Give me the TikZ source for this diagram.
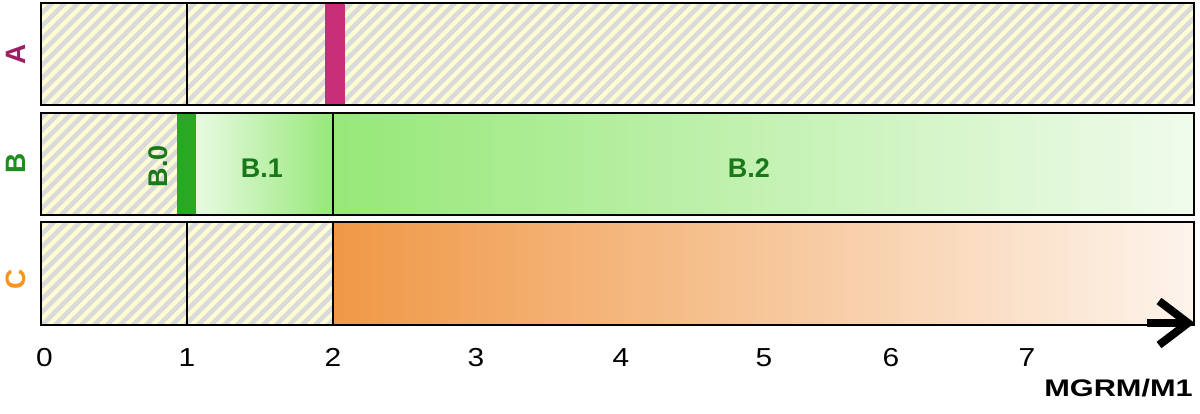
\documentclass[tikz,border=0pt]{standalone}
\usepackage{fontspec}
\setmainfont{Liberation Sans}
\definecolor{hatchyellow}{RGB}{255,252,210}
\definecolor{hatchgray}{RGB}{218,218,218}
\definecolor{barmagenta}{RGB}{200,45,120}
\definecolor{bargreen}{RGB}{40,168,35}
\definecolor{gpale}{RGB}{232,250,226}
\definecolor{gmid}{RGB}{150,232,120}
\definecolor{gend}{RGB}{240,251,236}
\definecolor{oleft}{RGB}{240,152,70}
\definecolor{oright}{RGB}{253,244,236}
\definecolor{labA}{RGB}{160,30,100}
\definecolor{labB}{RGB}{30,140,30}
\definecolor{labC}{RGB}{247,148,29}
\definecolor{labtext}{RGB}{25,120,25}
\tikzset{
  boxline/.style={draw=black, line width=1.4pt},
  divline/.style={black, line width=1.4pt},
  rowlabel/.style={font=\fontsize{28}{32}\selectfont\bfseries, rotate=90, inner sep=0pt},
  seglabel/.style={font=\fontsize{27}{31}\selectfont\bfseries, text=labtext, inner sep=0pt},
  ticklabel/.style={font=\fontsize{26}{30}\selectfont, inner sep=0pt, xscale=1.15},
  axisarrow/.style={line width=8pt, line join=miter, black}
}
\begin{document}
\begin{tikzpicture}[x=1pt, y=-1pt]
\useasboundingbox (0,0) rectangle (1200,413);
% hatched regions
\begin{scope}
  \clip (41,3) rectangle (1194,105)
        (41,113) rectangle (177,215)
        (41,222) rectangle (333,325);
  \fill[hatchyellow] (0,0) rectangle (1200,413);
  \foreach \k in {-440,-427,...,1200}
    \draw[hatchgray, line width=4.6pt] (\k,430) -- ++(440,-440);
\end{scope}
% row A
\fill[barmagenta] (325,3) rectangle (345,105);
\draw[divline] (187,3) -- (187,105);
\draw[boxline] (41,3) rectangle (1194,105);
% row B
\fill[bargreen] (177,113) rectangle (196,215);
\shade[left color=gpale, right color=gmid] (196,113) rectangle (333,215);
\shade[left color=gmid, right color=gend] (333,113) rectangle (1194,215);
\draw[divline] (333,113) -- (333,215);
\draw[boxline] (41,113) rectangle (1194,215);
% row C
\shade[left color=oleft, right color=oright] (333,222) rectangle (1194,325);
\draw[divline] (187,222) -- (187,325);
\draw[divline] (333,222) -- (333,325);
\draw[boxline] (41,222) rectangle (1194,325);
% row labels
\node[rowlabel, text=labA] (labelA) at (16,54) {A};
\node[rowlabel, text=labB] (labelB) at (16,163) {B};
\node[rowlabel, text=labC] (labelC) at (16,279) {C};
% segment labels
\node[seglabel, rotate=90] (b0) at (158,166) {B.0};
\node[seglabel] (b1) at (262,168) {B.1};
\node[seglabel] (b2) at (749,168) {B.2};
% axis arrow
\coordinate (shaftstart) at (1147,323);
\coordinate (tip) at (1188,323);
\coordinate (armup) at (1159,301);
\coordinate (armdown) at (1159,345);
\draw[axisarrow] (shaftstart) -- (tip);
\draw[axisarrow] (armup) -- (tip) -- (armdown);
% tick labels
\node[ticklabel] (t0) at (44.5,357.5) {0};
\node[ticklabel] (t1) at (187,357.5) {1};
\node[ticklabel] (t2) at (333,357.5) {2};
\node[ticklabel] (t3) at (476,357.5) {3};
\node[ticklabel] (t4) at (621,357.5) {4};
\node[ticklabel] (t5) at (764,357.5) {5};
\node[ticklabel] (t6) at (891,357.5) {6};
\node[ticklabel] (t7) at (1027,357.5) {7};
% axis title
\node[font=\fontsize{24}{28}\selectfont\bfseries, inner sep=0pt, xscale=1.28, anchor=east] (axtitle) at (1193,388) {MGRM/M1};
\end{tikzpicture}
\end{document}
